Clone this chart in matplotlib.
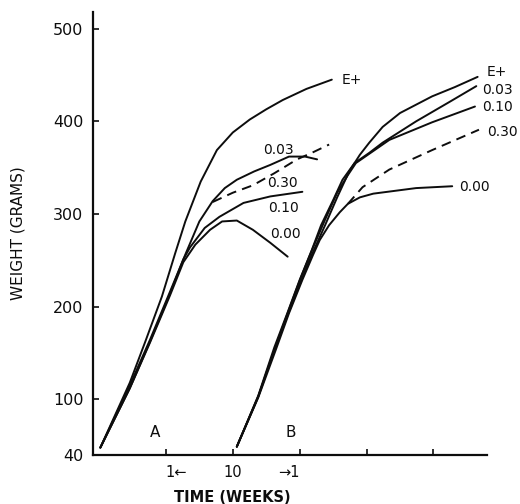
import matplotlib
matplotlib.use("Agg")
import matplotlib.pyplot as plt

plt.rcParams['font.family'] = ['DejaVu Sans']
plt.rcParams['lines.scale_dashes'] = False

# growth curves, series A (weeks, grams)
a_eplus_x = [0.1, 2.3, 3.45, 4.7, 5.7, 6.45, 7.6, 8.81, 10.0, 11.27, 12.5, 13.73, 15.5, 17.4]
a_eplus_y = [48, 118, 162, 211, 258, 292, 335, 369, 388, 402, 413, 423, 435, 445]

a_003_x = [0.1, 2.3, 3.8, 5.3, 6.5, 7.5, 8.5, 9.4, 10.3, 11.6, 12.8, 14.2, 15.4, 16.3]
a_003_y = [48, 115, 164, 216, 258, 292, 314, 328, 337, 346, 353, 362, 362, 359]

a_030_x = [8.5, 10.0, 11.5, 13.1, 14.8, 15.9, 17.2]
a_030_y = [313, 323, 331, 344, 359, 366, 375]

a_010_x = [0.1, 2.3, 3.8, 5.3, 6.3, 6.8, 7.9, 9.0, 10.8, 12.8, 15.2]
a_010_y = [48, 112, 162, 214, 251, 264, 285, 297, 312, 319, 324]

a_000_x = [0.1, 2.3, 3.8, 5.3, 6.3, 7.2, 8.3, 9.2, 10.3, 11.5, 12.8, 14.1]
a_000_y = [48, 112, 161, 212, 248, 267, 283, 292, 293, 283, 269, 254]

# growth curves, series B
b_eplus_x = [10.3, 11.9, 13.1, 14.1, 15.0, 15.9, 16.9, 17.8, 18.7, 19.5, 20.2, 21.2, 22.5, 24.9, 26.6, 28.3]
b_eplus_y = [49, 103, 153, 191, 224, 256, 288, 318, 346, 364, 377, 394, 409, 427, 437, 448]

b_003_x = [10.3, 11.9, 13.1, 14.1, 15.0, 15.9, 16.6, 17.5, 18.2, 19.1, 20.2, 21.2, 23.7, 26.2, 28.2]
b_003_y = [49, 104, 156, 194, 229, 261, 288, 315, 337, 355, 366, 377, 400, 421, 438]

b_010_x = [10.3, 11.9, 13.1, 14.2, 15.1, 16.0, 16.9, 17.8, 18.6, 19.2, 20.0, 21.7, 24.9, 28.1]
b_010_y = [49, 103, 153, 197, 232, 264, 294, 323, 342, 355, 363, 380, 399, 416]

b_030_x = [18.6, 19.7, 21.7, 24.9, 28.4]
b_030_y = [311, 329, 348, 369, 391]

b_000_x = [10.3, 11.9, 13.2, 14.2, 15.2, 16.0, 16.5, 17.2, 18.0, 18.6, 19.5, 20.5, 23.7, 26.4]
b_000_y = [49, 102, 153, 193, 229, 256, 272, 288, 302, 311, 318, 322, 328, 330]

# curve labels: text, x, y, alignment
a_labels = [("E+", 18.1, 445, "left"), ("0.03", 13.4, 369, "center"),
            ("0.30", 13.7, 334, "center"), ("0.10", 13.8, 307, "center"),
            ("0.00", 13.9, 278, "center")]
b_labels = [("E+", 29.0, 453, "left"), ("0.03", 28.6, 434, "left"),
            ("0.10", 28.6, 415, "left"), ("0.30", 29.0, 389, "left"),
            ("0.00", 26.9, 329, "left")]

xticks = [5, 10, 15, 20, 25]
xtick_labels = ["1\u2190", "10", "\u21921", "", ""]
yticks = [40, 100, 200, 300, 400, 500]

ink = "#0d0d0d"
lw = 1.4

fig = plt.figure(figsize=(5.2, 5.04), dpi=100)
ax = fig.add_axes([93 / 520, 49 / 504, 394 / 520, 443 / 504])

solid = [(a_eplus_x, a_eplus_y), (a_003_x, a_003_y), (a_010_x, a_010_y), (a_000_x, a_000_y),
         (b_eplus_x, b_eplus_y), (b_003_x, b_003_y), (b_010_x, b_010_y), (b_000_x, b_000_y)]
for xs, ys in solid:
    ax.plot(xs, ys, color=ink, lw=lw, solid_joinstyle="round", solid_capstyle="round")
for xs, ys in [(a_030_x, a_030_y), (b_030_x, b_030_y)]:
    ax.plot(xs, ys, color=ink, lw=lw, dashes=(7, 4.5))

for txt, x, y, ha in a_labels + b_labels:
    ax.text(x, y, txt, ha=ha, va="center", fontsize=10, color=ink, clip_on=False)
ax.text(4.2, 64, "A", ha="center", va="center", fontsize=11, color=ink)
ax.text(14.3, 64, "B", ha="center", va="center", fontsize=11, color=ink)

ax.set_xlim(-0.45, 29.0)
ax.set_ylim(40, 518)
ax.set_xticks(xticks)
ax.set_xticklabels(xtick_labels, fontsize=10.5)
lbls = ax.get_xticklabels()
lbls[0].set_ha("left")
lbls[2].set_ha("right")
ax.set_yticks(yticks)
ax.set_yticklabels([str(v) for v in yticks], fontsize=11.5)
ax.tick_params(direction="in", length=4, width=1.2, colors=ink, pad=7)

for side in ["top", "right"]:
    ax.spines[side].set_visible(False)
for side in ["left", "bottom"]:
    ax.spines[side].set_linewidth(1.6)
    ax.spines[side].set_color(ink)

fig.text(18 / 520, 0.538, "WEIGHT (GRAMS)", rotation=90, ha="center", va="center",
         fontsize=11, color=ink)
fig.text(232 / 520, 7 / 504, "TIME (WEEKS)", ha="center", va="center",
         fontsize=10.5, fontweight="bold", color=ink)

fig.savefig("out.png", dpi=100)
